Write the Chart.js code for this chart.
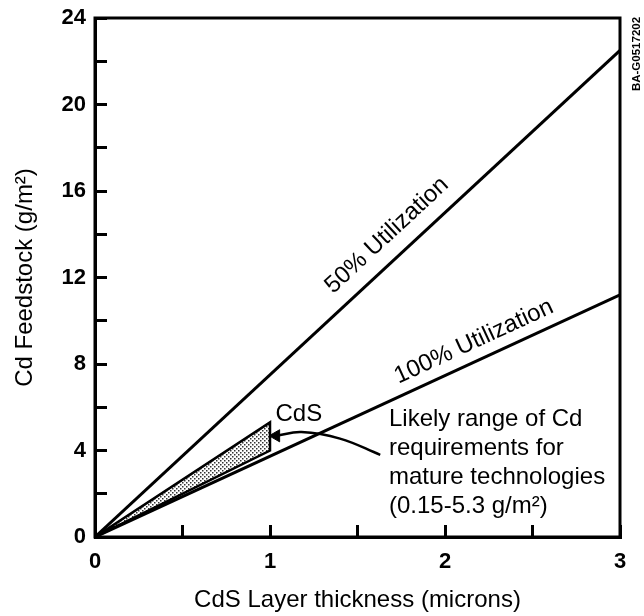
<!DOCTYPE html>
<html>
<head>
<meta charset="utf-8">
<script src="https://cdn.jsdelivr.net/npm/chart.js@4.4.0/dist/chart.umd.min.js"></script>
<style>
  html, body { margin: 0; padding: 0; background: #fff; }
  #wrap { width: 644px; height: 616px; position: relative; }
</style>
</head>
<body>
<div id="wrap"><canvas id="myChart"></canvas></div>
<script>
// CdS layer thickness (microns) and Cd feedstock (g/m2)
var thickness = [0, 3];
var feed50 = [0, 22.5];
var feed100 = [0, 11.2];

// likely range for mature technologies (wedge corners)
var cdsX = [0, 1, 1, 0];
var cdsY = [0, 5.3, 4.0, 0];

// pointer from the note to the wedge
var arrowX = [1.63, 1.4, 1.18, 1.035];
var arrowY = [3.8, 4.55, 4.85, 4.68];

var xLabels = [0, 1, 2, 3];
var yLabels = [0, 4, 8, 12, 16, 20, 24];

var FONT = '"Liberation Sans", Arial, Helvetica, sans-serif';
Chart.defaults.font.family = FONT;
Chart.defaults.color = '#000';

function pts(xs, ys) {
  return xs.map(function (x, i) { return { x: x, y: ys[i] }; });
}

// stipple fill for the wedge
function dots() {
  var p = document.createElement('canvas');
  p.width = 4; p.height = 4;
  var g = p.getContext('2d');
  g.fillStyle = '#fff';
  g.fillRect(0, 0, 4, 4);
  g.fillStyle = '#333';
  g.fillRect(0, 0, 1.5, 1.5);
  g.fillRect(2, 2, 1.5, 1.5);
  return g.createPattern(p, 'repeat');
}

var notes = [
  { text: '50% Utilization', x: 1.668, y: 13.95, line: feed50 },
  { text: '100% Utilization', x: 2.165, y: 9.03, line: feed100 },
  { text: 'CdS', x: 1.165, y: 5.67 }
];
var noteLines = ['Likely range of Cd', 'requirements for', 'mature technologies', '(0.15-5.3 g/m²)'];

var framePlugin = {
  id: 'frame',
  afterDraw: function (chart) {
    var a = chart.chartArea, c = chart.ctx;
    c.save();
    c.strokeStyle = '#000';
    c.lineWidth = 3;
    c.strokeRect(a.left, a.top, a.right - a.left, a.bottom - a.top);
    c.restore();
  }
};

var notesPlugin = {
  id: 'notes',
  afterDraw: function (chart) {
    var c = chart.ctx, xs = chart.scales.x, ys = chart.scales.y;
    c.save();
    c.fillStyle = '#000';
    c.font = '24px ' + FONT;
    c.textAlign = 'center';
    c.textBaseline = 'middle';
    notes.forEach(function (n) {
      var rot = 0;
      if (n.line) {
        var dx = xs.getPixelForValue(thickness[1]) - xs.getPixelForValue(thickness[0]);
        var dy = ys.getPixelForValue(n.line[1]) - ys.getPixelForValue(n.line[0]);
        rot = Math.atan2(dy, dx);
      }
      c.save();
      c.translate(xs.getPixelForValue(n.x), ys.getPixelForValue(n.y));
      c.rotate(rot);
      c.fillText(n.text, 0, 0);
      c.restore();
    });
    c.textAlign = 'left';
    var x0 = xs.getPixelForValue(1.68), y0 = ys.getPixelForValue(5.42);
    noteLines.forEach(function (t, i) {
      c.fillText(t, x0, y0 + i * 28.7);
    });
    // figure id on the right margin
    c.font = 'bold 11.5px ' + FONT;
    c.textAlign = 'center';
    c.translate(637, 54);
    c.rotate(-Math.PI / 2);
    c.fillText('BA-G0517202', 0, 0);
    c.restore();
  }
};

function noPad(s) {
  s.paddingTop = 0; s.paddingBottom = 0; s.paddingLeft = 0; s.paddingRight = 0;
}

var ctx = document.getElementById('myChart').getContext('2d');
new Chart(ctx, {
  type: 'line',
  data: {
    datasets: [
      {
        data: pts(cdsX, cdsY),
        borderColor: '#000',
        borderWidth: 2.5,
        backgroundColor: dots(),
        fill: 'shape',
        tension: 0,
        pointRadius: 0
      },
      {
        data: pts(thickness, feed50),
        borderColor: '#000',
        borderWidth: 3,
        fill: false,
        pointRadius: 0
      },
      {
        data: pts(thickness, feed100),
        borderColor: '#000',
        borderWidth: 3,
        fill: false,
        pointRadius: 0
      },
      {
        data: pts(arrowX, arrowY),
        borderColor: '#000',
        borderWidth: 2.5,
        fill: false,
        tension: 0.4,
        pointRadius: [0, 0, 0, 7],
        pointStyle: 'triangle',
        pointRotation: 270,
        pointBackgroundColor: '#000',
        pointBorderColor: '#000',
        pointBorderWidth: 1
      }
    ]
  },
  options: {
    responsive: true,
    maintainAspectRatio: false,
    animation: false,
    events: [],
    layout: { padding: { top: 18, right: 24, left: 0, bottom: 0 } },
    plugins: { legend: { display: false }, tooltip: { enabled: false } },
    scales: {
      x: {
        type: 'linear',
        min: 0,
        max: 3,
        ticks: {
          stepSize: 0.5,
          autoSkip: false,
          maxRotation: 0,
          padding: 24,
          font: { size: 22, weight: 'bold' },
          callback: function (v) { return xLabels.indexOf(v) >= 0 ? String(v) : ''; }
        },
        grid: { drawOnChartArea: false, tickLength: -12, lineWidth: 3, color: '#000' },
        border: { display: true, width: 3, color: '#000' },
        title: {
          display: true,
          text: 'CdS Layer thickness (microns)',
          font: { size: 24 },
          padding: { top: 0, bottom: 1 }
        },
        afterFit: function (s) { s.height = 79; noPad(s); }
      },
      y: {
        min: 0,
        max: 24,
        ticks: {
          stepSize: 2,
          autoSkip: false,
          padding: 21,
          font: { size: 22, weight: 'bold' },
          callback: function (v) { return yLabels.indexOf(v) >= 0 ? String(v) : ''; }
        },
        grid: { drawOnChartArea: false, tickLength: -12, lineWidth: 3, color: '#000' },
        border: { display: true, width: 3, color: '#000' },
        title: {
          display: true,
          text: 'Cd Feedstock (g/m²)',
          font: { size: 24 },
          padding: { top: 11, bottom: 0 }
        },
        afterFit: function (s) { s.width = 95; noPad(s); }
      }
    }
  },
  plugins: [framePlugin, notesPlugin]
});
</script>
</body>
</html>
